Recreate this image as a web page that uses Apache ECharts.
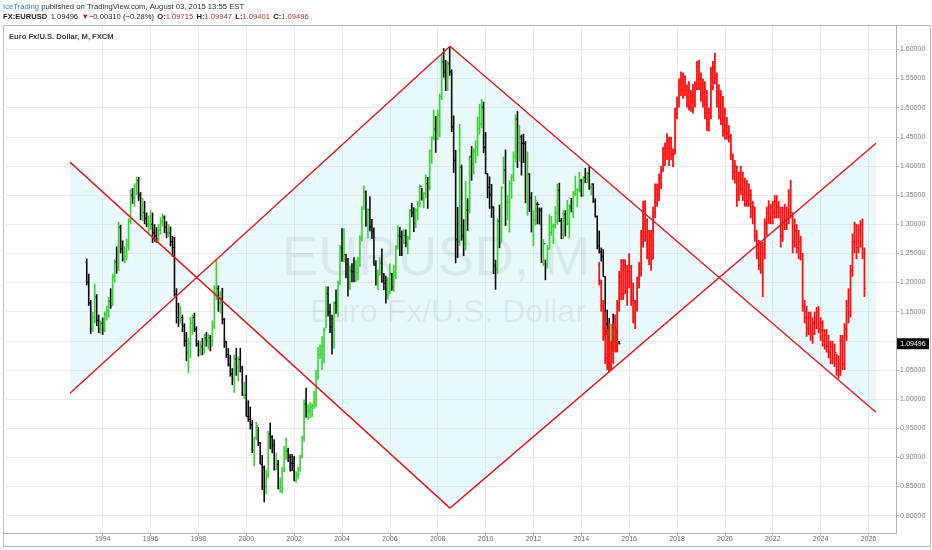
<!DOCTYPE html>
<html><head><meta charset="utf-8">
<script src="https://cdn.jsdelivr.net/npm/echarts@6/dist/echarts.min.js"></script>
<style>html,body{margin:0;padding:0;background:#fff}#c{width:932px;height:550px}</style>
</head><body><div id="c"></div>
<script>
// ---- real monthly OHLC bars, EUR/USD (FXCM), May 1993 .. Aug 2015 ----
const realStart = [1993, 5];
const realOpen0 = 1.235;
const realClose = [
 1.200,1.165,1.120,1.140,1.175,1.135,1.120,1.130,
 1.118,1.145,1.152,1.168,1.160,1.210,1.235,1.225,1.295,1.258,1.240,1.245,
 1.265,1.305,1.350,1.345,1.365,1.375,1.350,1.315,1.320,1.310,1.300,1.300,
 1.300,1.285,1.280,1.275,1.290,1.305,1.312,1.295,1.285,1.285,1.270,1.260,
 1.180,1.140,1.135,1.140,1.125,1.100,1.080,1.095,1.130,1.140,1.120,1.095,
 1.085,1.090,1.085,1.105,1.100,1.105,1.100,1.125,1.180,1.190,1.165,1.172,
 1.1365,1.0985,1.0765,1.0580,1.0430,1.0345,1.0690,1.0545,1.0680,1.0535,1.0070,1.0070,
 0.9700,0.9650,0.9560,0.9125,0.9335,0.9540,0.9255,0.8880,0.8830,0.8495,0.8705,0.9400,
 0.9350,0.9210,0.8795,0.8880,0.8465,0.8480,0.8760,0.9105,0.9110,0.9000,0.8900,0.8895,
 0.8605,0.8690,0.8720,0.9025,0.9330,0.9920,0.9780,0.9810,0.9860,0.9880,0.9935,1.0490,
 1.0760,1.0780,1.0905,1.1180,1.1810,1.1495,1.1240,1.0980,1.1650,1.1590,1.1990,1.2595,
 1.2450,1.2480,1.2315,1.1975,1.2200,1.2185,1.2020,1.2170,1.2420,1.2750,1.3260,1.3555,
 1.3035,1.3250,1.2960,1.2870,1.2300,1.2100,1.2125,1.2335,1.2025,1.1985,1.1790,1.1840,
 1.2150,1.1925,1.2120,1.2625,1.2810,1.2790,1.2770,1.2810,1.2685,1.2760,1.3240,1.3200,
 1.3020,1.3230,1.3355,1.3650,1.3450,1.3535,1.3695,1.3635,1.4260,1.4490,1.4630,1.4590,
 1.4865,1.5185,1.5785,1.5610,1.5550,1.5750,1.5615,1.4670,1.4095,1.2735,1.2705,1.3975,
 1.2805,1.2665,1.3245,1.3240,1.4155,1.4030,1.4255,1.4330,1.4640,1.4715,1.5005,1.4320,
 1.3865,1.3630,1.3505,1.3295,1.2290,1.2235,1.3050,1.2680,1.3630,1.3925,1.3000,1.3380,
 1.3695,1.3805,1.4160,1.4805,1.4395,1.4500,1.4390,1.4380,1.3390,1.3860,1.3450,1.2960,
 1.3080,1.3345,1.3340,1.3240,1.2360,1.2665,1.2305,1.2575,1.2860,1.2955,1.2985,1.3195,
 1.3580,1.3060,1.2815,1.3170,1.2995,1.3010,1.3300,1.3220,1.3525,1.3580,1.3590,1.3745,
 1.3485,1.3805,1.3770,1.3870,1.3635,1.3690,1.3390,1.3130,1.2630,1.2525,1.2450,1.2100,
 1.1290,1.1195,1.0730,1.1225,1.0985,1.1150,1.0985,1.09496
];
const realHigh = [
 1.241,1.215,1.170,1.150,1.198,1.180,1.145,1.135,
 1.140,1.150,1.160,1.175,1.190,1.215,1.240,1.262,1.304,1.299,1.272,1.262,
 1.275,1.310,1.360,1.362,1.370,1.381,1.381,1.355,1.345,1.340,1.320,1.315,
 1.325,1.320,1.300,1.295,1.300,1.312,1.318,1.315,1.305,1.300,1.296,1.280,
 1.278,1.190,1.165,1.160,1.145,1.130,1.115,1.105,1.141,1.145,1.148,1.125,
 1.101,1.100,1.105,1.112,1.115,1.112,1.110,1.135,1.195,1.238,1.195,1.185,
 1.1906,1.1390,1.1000,1.0875,1.0760,1.0530,1.0765,1.0880,1.0730,1.0880,1.0570,1.0295,
 1.0410,0.9980,0.9870,0.9640,0.9355,0.9610,0.9520,0.9260,0.9040,0.8860,0.8790,0.9455,
 0.9595,0.9380,0.9310,0.9080,0.8955,0.8660,0.8835,0.9195,0.9340,0.9165,0.9060,0.9055,
 0.9025,0.8760,0.8840,0.9040,0.9370,0.9995,1.0195,0.9910,0.9955,0.9930,1.0140,1.0495,
 1.0895,1.0935,1.1080,1.1230,1.1935,1.1930,1.1635,1.1445,1.1675,1.1880,1.2030,1.2645,
 1.2930,1.2930,1.2490,1.2420,1.2290,1.2330,1.2435,1.2385,1.2440,1.2810,1.3310,1.3665,
 1.3580,1.3270,1.3480,1.3090,1.2945,1.2380,1.2225,1.2435,1.2585,1.2165,1.2115,1.2090,
 1.2325,1.2165,1.2300,1.2640,1.2980,1.2950,1.2890,1.2915,1.2910,1.2805,1.3255,1.3365,
 1.3290,1.3275,1.3395,1.3680,1.3625,1.3545,1.3855,1.3810,1.4280,1.4505,1.4965,1.4855,
 1.4965,1.5240,1.5905,1.6020,1.5815,1.5795,1.6038,1.5655,1.4865,1.4275,1.3295,1.4720,
 1.4020,1.3085,1.3740,1.3445,1.4175,1.4340,1.4305,1.4445,1.4845,1.5065,1.5145,1.5100,
 1.4580,1.3870,1.3820,1.3690,1.3305,1.2390,1.3100,1.3335,1.3650,1.4160,1.4280,1.3500,
 1.3750,1.3860,1.4245,1.4880,1.4940,1.4700,1.4535,1.4550,1.4425,1.4245,1.3875,1.3550,
 1.3235,1.3485,1.3385,1.3285,1.3285,1.2745,1.2390,1.2640,1.3170,1.3140,1.3010,1.3310,
 1.3695,1.3710,1.3105,1.3240,1.3240,1.3415,1.3345,1.3450,1.3570,1.3830,1.3620,1.3895,
 1.3775,1.3825,1.3965,1.3905,1.3995,1.3700,1.3700,1.3445,1.3150,1.2890,1.2600,1.2570,
 1.2105,1.1535,1.1390,1.1290,1.1465,1.1435,1.1215,1.09947
];
const realLow = [
 1.195,1.160,1.112,1.115,1.130,1.125,1.113,1.112,
 1.110,1.115,1.135,1.140,1.155,1.160,1.200,1.215,1.220,1.250,1.236,1.233,
 1.238,1.255,1.300,1.335,1.330,1.350,1.340,1.307,1.305,1.300,1.295,1.285,
 1.290,1.268,1.270,1.268,1.270,1.282,1.296,1.285,1.276,1.278,1.262,1.244,
 1.176,1.130,1.124,1.130,1.115,1.090,1.065,1.044,1.070,1.110,1.115,1.090,
 1.073,1.075,1.075,1.078,1.090,1.085,1.082,1.090,1.120,1.170,1.150,1.147,
 1.1285,1.0880,1.0710,1.0560,1.0385,1.0240,1.0105,1.0400,1.0305,1.0460,1.0055,1.0000,
 0.9700,0.9610,0.9480,0.9075,0.8845,0.9290,0.9195,0.8885,0.8440,0.8230,0.8365,0.8650,
 0.9140,0.9070,0.8775,0.8785,0.8455,0.8400,0.8380,0.8745,0.8960,0.8920,0.8760,0.8765,
 0.8590,0.8565,0.8635,0.8760,0.8980,0.9270,0.9680,0.9640,0.9670,0.9695,0.9830,0.9860,
 1.0335,1.0690,1.0505,1.0615,1.1210,1.1415,1.1135,1.0765,1.0865,1.1465,1.1405,1.1955,
 1.2355,1.2345,1.2075,1.1760,1.1875,1.2005,1.2005,1.2015,1.2035,1.2270,1.2705,1.3250,
 1.2955,1.2760,1.2880,1.2745,1.2290,1.1950,1.1865,1.2130,1.1995,1.1870,1.1640,1.1710,
 1.1800,1.1860,1.1840,1.2065,1.2565,1.2455,1.2455,1.2660,1.2605,1.2485,1.2730,1.3120,
 1.2865,1.2935,1.3065,1.3300,1.3405,1.3275,1.3445,1.3265,1.3580,1.4040,1.4435,1.4225,
 1.4445,1.4495,1.5130,1.5515,1.5285,1.5285,1.5545,1.4580,1.3880,1.2330,1.2420,1.2630,
 1.2720,1.2455,1.2550,1.2885,1.3185,1.3745,1.3855,1.4050,1.4165,1.4535,1.4645,1.4220,
 1.3860,1.3445,1.3265,1.3110,1.2145,1.1875,1.2150,1.2590,1.2695,1.3690,1.2970,1.3065,
 1.2860,1.3440,1.3735,1.4060,1.3965,1.4075,1.3835,1.4050,1.3360,1.3145,1.3210,1.2860,
 1.2625,1.2975,1.3000,1.2995,1.2335,1.2285,1.2040,1.2240,1.2565,1.2800,1.2660,1.2925,
 1.2995,1.3035,1.2745,1.2745,1.2795,1.2980,1.2755,1.3205,1.3105,1.3480,1.3295,1.3545,
 1.3475,1.3475,1.3705,1.3705,1.3590,1.3500,1.3365,1.3115,1.2570,1.2500,1.2360,1.2100,
 1.1100,1.1100,1.0460,1.0520,1.0815,1.0815,1.0810,1.09401
];

// ---- projected ("bars pattern") monthly bars, Oct 2014 .. Nov 2025 ----
const projStart = [2014, 10];
const projOpen0 = 1.230;
const projClose = [
 1.200,1.160,1.110,
 1.070,1.100,1.060,1.090,1.120,1.090,1.160,1.210,1.180,1.230,1.190,1.220,
 1.200,1.170,1.140,1.160,1.200,1.225,1.280,1.330,1.280,1.250,1.280,1.240,
 1.320,1.360,1.350,1.380,1.390,1.420,1.430,1.440,1.430,1.420,1.420,1.490,
 1.510,1.540,1.530,1.550,1.530,1.520,1.500,1.510,1.520,1.540,1.570,1.540,
 1.520,1.540,1.490,1.470,1.490,1.560,1.570,1.550,1.510,1.500,1.480,1.460,
 1.470,1.455,1.450,1.420,1.390,1.400,1.350,1.380,1.360,1.350,1.370,1.340,
 1.350,1.320,1.330,1.280,1.250,1.230,1.260,1.250,1.300,1.320,1.310,1.330,
 1.320,1.340,1.330,1.320,1.280,1.320,1.300,1.310,1.350,1.320,1.270,1.290,
 1.260,1.270,1.250,1.160,1.140,1.120,1.140,1.110,1.130,1.140,1.150,1.120,
 1.130,1.100,1.110,1.090,1.080,1.090,1.070,1.080,1.050,1.060,1.100,1.060,
 1.120,1.160,1.150,1.220,1.270,1.300,1.260,1.290,1.300,1.250,1.190
];
const projHigh = [
 1.235,1.205,1.170,
 1.150,1.120,1.130,1.100,1.130,1.145,1.170,1.220,1.240,1.240,1.240,1.230,
 1.250,1.230,1.200,1.170,1.210,1.235,1.290,1.340,1.341,1.310,1.290,1.290,
 1.330,1.370,1.370,1.387,1.400,1.433,1.440,1.456,1.450,1.450,1.430,1.500,
 1.519,1.550,1.562,1.560,1.555,1.540,1.545,1.530,1.540,1.545,1.580,1.582,
 1.560,1.550,1.545,1.530,1.500,1.570,1.580,1.594,1.560,1.540,1.530,1.520,
 1.500,1.484,1.470,1.455,1.421,1.410,1.400,1.390,1.400,1.390,1.380,1.376,
 1.370,1.360,1.340,1.330,1.290,1.273,1.270,1.270,1.310,1.330,1.341,1.335,
 1.340,1.350,1.350,1.340,1.330,1.330,1.335,1.330,1.360,1.376,1.320,1.310,
 1.300,1.290,1.280,1.250,1.170,1.160,1.150,1.150,1.140,1.150,1.158,1.160,
 1.140,1.135,1.120,1.120,1.110,1.100,1.100,1.095,1.078,1.075,1.110,1.110,
 1.130,1.170,1.190,1.230,1.284,1.304,1.300,1.300,1.307,1.310,1.260
];
const projLow = [
 1.195,1.150,1.100,
 1.060,1.050,1.048,1.050,1.060,1.080,1.080,1.150,1.170,1.170,1.180,1.160,
 1.190,1.160,1.130,1.120,1.150,1.190,1.210,1.260,1.270,1.240,1.230,1.220,
 1.240,1.310,1.330,1.340,1.360,1.390,1.400,1.410,1.400,1.410,1.398,1.420,
 1.480,1.500,1.520,1.515,1.520,1.500,1.495,1.493,1.490,1.500,1.530,1.530,
 1.510,1.500,1.480,1.460,1.459,1.480,1.530,1.540,1.500,1.480,1.470,1.450,
 1.445,1.445,1.440,1.410,1.376,1.370,1.330,1.340,1.350,1.340,1.330,1.330,
 1.330,1.310,1.300,1.270,1.240,1.221,1.215,1.175,1.240,1.280,1.300,1.300,
 1.300,1.310,1.310,1.310,1.260,1.270,1.290,1.290,1.300,1.310,1.250,1.260,
 1.250,1.240,1.238,1.150,1.130,1.107,1.110,1.100,1.095,1.110,1.120,1.113,
 1.100,1.090,1.085,1.080,1.070,1.060,1.060,1.055,1.040,1.035,1.040,1.050,
 1.050,1.100,1.130,1.140,1.210,1.250,1.240,1.250,1.260,1.240,1.175
];

// ---- drawn trend lines (zig-zags): [decimal year, price] ----
const upperZigzag = [[1992.633, 1.4065], [2008.513, 0.8130], [2026.316, 1.4390]];
const lowerZigzag = [[1992.633, 1.0100], [2008.513, 1.6053], [2026.316, 0.9774]];

// ---- axes ----
const yearTicks = [1994,1996,1998,2000,2002,2004,2006,2008,2010,2012,2014,2016,2018,2020,2022,2024,2026];
const priceTicks = [0.80,0.85,0.90,0.95,1.00,1.05,1.10,1.15,1.20,1.25,1.30,1.35,1.40,1.45,1.50,1.55,1.60];
const priceLabels = [0.80,0.85,0.90,0.95,1.00,1.05,1.15,1.20,1.25,1.30,1.35,1.40,1.45,1.50,1.55,1.60];
const lastPrice = 1.09496;
const X_MIN = 1989.834, X_MAX = 2027.151, Y_MIN = 0.77033, Y_MAX = 1.63997;

function buildBars(start, open0, C, H, L) {
  const out = [];
  let y = start[0], m = start[1];
  let prev = open0;
  for (let i = 0; i < C.length; i++) {
    out.push([y + (m - 1) / 12, prev, H[i], L[i], C[i]]);
    prev = C[i];
    m++; if (m > 12) { m = 1; y++; }
  }
  return out;
}
const realBars = buildBars(realStart, realOpen0, realClose, realHigh, realLow);
const projBars = buildBars(projStart, projOpen0, projClose, projHigh, projLow);

function barRenderer(colorFn, lw) {
  return function (params, api) {
    const x = api.value(0), o = api.value(1), h = api.value(2), l = api.value(3), c = api.value(4);
    const pH = api.coord([x, h]), pL = api.coord([x, l]), pO = api.coord([x, o]), pC = api.coord([x, c]);
    const col = colorFn(o, c);
    return { type: 'group', children: [
      { type: 'line', shape: { x1: pH[0], y1: pH[1], x2: pL[0], y2: pL[1] }, style: { stroke: col, lineWidth: lw } },
      { type: 'line', shape: { x1: pO[0] - 1.3, y1: pO[1], x2: pO[0], y2: pO[1] }, style: { stroke: col, lineWidth: 1 } },
      { type: 'line', shape: { x1: pC[0], y1: pC[1], x2: pC[0] + 1.3, y2: pC[1] }, style: { stroke: col, lineWidth: 1 } }
    ]};
  };
}

const FONT = 'Liberation Sans, Arial, sans-serif';
const chart = echarts.init(document.getElementById('c'), null, { renderer: 'canvas' });
chart.setOption({
  animation: false,
  backgroundColor: '#ffffff',
  grid: { left: 3, right: 36, top: 26, bottom: 17, outerBoundsMode: 'none' },
  xAxis: {
    type: 'value', min: X_MIN, max: X_MAX,
    axisLine: { show: true, lineStyle: { color: '#b4b4b4' } },
    axisTick: { show: true, customValues: yearTicks, length: 3, lineStyle: { color: '#b4b4b4' } },
    axisLabel: { customValues: yearTicks, formatter: v => String(Math.round(v)), color: '#666', fontSize: 7, fontFamily: FONT, margin: 3 },
    splitLine: { show: true, lineStyle: { color: '#ebebeb', width: 1 } }
  },
  yAxis: {
    type: 'value', position: 'right', min: Y_MIN, max: Y_MAX,
    axisLine: { show: true, lineStyle: { color: '#b4b4b4' } },
    axisTick: { show: true, customValues: priceTicks, length: 3, lineStyle: { color: '#b4b4b4' } },
    axisLabel: { customValues: priceLabels, formatter: v => v.toFixed(5), color: '#7a7a7a', fontSize: 7, fontFamily: FONT, margin: 4 },
    splitLine: { show: true, lineStyle: { color: '#ebebeb', width: 1 } }
  },
  graphic: [
    { type: 'rect', z: 0, silent: true, shape: { x: 3.5, y: 25.5, width: 927, height: 521 }, style: { fill: 'none', stroke: '#b9b9b9', lineWidth: 1 } },
    { type: 'text', z: 1, silent: true, x: 436, y: 260, style: { text: 'EURUSD, M', font: '55px ' + FONT, fill: 'rgba(0,0,0,0.075)', textAlign: 'center', textVerticalAlign: 'middle' } },
    { type: 'text', z: 1, silent: true, x: 448, y: 313, style: { text: 'Euro Fx/U.S. Dollar', font: '32px ' + FONT, fill: 'rgba(0,0,0,0.075)', textAlign: 'center', textVerticalAlign: 'middle' } },
    { type: 'text', z: 10, silent: true, x: 9, y: 37, style: { text: 'Euro Fx/U.S. Dollar, M, FXCM', font: 'bold 7.6px ' + FONT, fill: '#3c3c3c', textVerticalAlign: 'middle' } },
    { type: 'text', z: 10, silent: true, x: 3, y: 6.5, style: {
      text: '{a|IceTrading}{b| published on TradingView.com, August 03, 2015 13:55 EST}',
      textVerticalAlign: 'middle',
      rich: { a: { fill: '#2a7fc4', font: '7.7px ' + FONT }, b: { fill: '#2a2a2a', font: '7.7px ' + FONT } } } },
    { type: 'text', z: 10, silent: true, x: 3, y: 17, style: {
      text: '{k|FX:EURUSD} {n|1.09496} {t|▼}{n|−0.00310 (−0.28%)} {k|O:}{r|1.09715} {k|H:}{r|1.09947} {k|L:}{r|1.09401} {k|C:}{r|1.09496}',
      textVerticalAlign: 'middle',
      rich: {
        k: { fill: '#1a1a1a', font: 'bold 7.6px ' + FONT },
        n: { fill: '#1a1a1a', font: '7.6px ' + FONT },
        t: { fill: '#d01010', font: '7.6px ' + FONT },
        r: { fill: '#b0302c', font: '7.6px ' + FONT }
      } } }
  ],
  series: [
    { // shaded area between the two zig-zags
      type: 'custom', z: 2, silent: true, data: [0], clip: true,
      renderItem: function (params, api) {
        const pts = upperZigzag.map(p => api.coord(p)).concat(lowerZigzag.slice().reverse().map(p => api.coord(p)));
        return { type: 'polygon', shape: { points: pts }, style: { fill: 'rgba(150,228,240,0.2)' } };
      }
    },
    { type: 'custom', z: 3, silent: true, data: realBars, clip: true,
      encode: { x: 0, y: [2, 3] },
      renderItem: barRenderer((o, c) => c >= o ? '#33d42b' : '#0a0a0a', 1.6) },
    { type: 'custom', z: 4, silent: true, data: projBars, clip: true,
      encode: { x: 0, y: [2, 3] },
      renderItem: barRenderer(() => '#ff1010', 1.8) },
    { type: 'line', z: 5, silent: true, data: upperZigzag, symbol: 'none', lineStyle: { color: '#e0191c', width: 1.4 } },
    { type: 'line', z: 5, silent: true, data: lowerZigzag, symbol: 'none', lineStyle: { color: '#e0191c', width: 1.4 } },
    { type: 'custom', z: 20, silent: true, clip: false, data: [[X_MAX, lastPrice]],
      renderItem: function (params, api) {
        const p = api.coord([api.value(0), api.value(1)]);
        return { type: 'group', children: [
          { type: 'rect', shape: { x: p[0] + 1, y: p[1] - 5.5, width: 32, height: 11 }, style: { fill: '#000' } },
          { type: 'text', x: p[0] + 17, y: p[1], style: { text: lastPrice.toFixed(5), fill: '#fff', font: '7px ' + FONT, textAlign: 'center', textVerticalAlign: 'middle' } }
        ]};
      } }
  ]
});
</script></body></html>
